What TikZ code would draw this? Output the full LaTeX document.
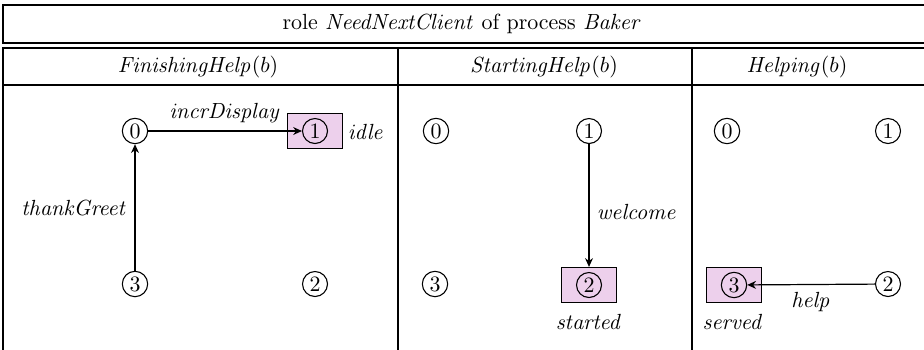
\documentclass[tikz,border=0pt]{standalone}
\usetikzlibrary{arrows.meta}
\definecolor{hl}{RGB}{237,208,236}
\begin{document}
\begin{tikzpicture}[x=0.456pt,y=-0.456pt,
  st/.style={circle,draw,line width=0.5pt,inner sep=1.1pt},
  hlbox/.style={rectangle,draw,fill=hl,minimum width=25.2pt,minimum height=16pt,line width=0.5pt},
  grid/.style={line width=0.5pt},
  tr/.style={-{Stealth[length=4pt,width=3.6pt]},line width=0.55pt},
  lbl/.style={inner sep=0pt}]
\useasboundingbox (0,0) rectangle (924,349);
\clip (0,0) rectangle (924,349);
% frames
\draw[grid] (3,5) rectangle (940,43);
\draw[grid] (940,48) -- (3,48) -- (3,360);
\draw[grid] (3,85) -- (940,85);
\draw[grid] (398,48) -- (398,360);
\draw[grid] (692,48) -- (692,360);
% titles
\node[lbl] (title) at (462,24) {role $\mathit{NeedNextClient}$ of process $\mathit{Baker}$};
\node[lbl] (h1) at (198,67) {$\mathit{FinishingHelp}(b)$};
\node[lbl] (h2) at (544,67) {$\mathit{StartingHelp}(b)$};
\node[lbl] (h3) at (797,67) {$\mathit{Helping}(b)$};
% column 1
\node[hlbox] (b11) at (315,131) {};
\node[st] (a0) at (135,131) {0};
\node[st] (a1) at (315,131) {1};
\node[st] (a3) at (135,284) {3};
\node[st] (a2) at (315,284) {2};
\node[lbl] (idle) at (366,132) {$\mathit{idle}$};
\draw[tr] (a0) -- node[above] {$\mathit{incrDisplay}$} (a1);
\draw[tr] (a3) -- node[left] {$\mathit{thankGreet}$} (a0);
% column 2
\node[hlbox] (b22) at (589,285) {};
\node[st] (c0) at (436,131) {0};
\node[st] (c1) at (589,131) {1};
\node[st] (c3) at (435,284) {3};
\node[st] (c2) at (589,285) {2};
\node[lbl] (started) at (589,322) {$\mathit{started}$};
\draw[tr] (c1) -- node[right,pos=0.55] {$\mathit{welcome}$} (b22.north);
% column 3
\node[hlbox] (b33) at (734,285) {};
\node[st] (d0) at (727,131) {0};
\node[st] (d1) at (888,131) {1};
\node[st] (d3) at (734,285) {3};
\node[st] (d2) at (888,284) {2};
\node[lbl] (served) at (733,322) {$\mathit{served}$};
\draw[tr] (d2) -- node[below] {$\mathit{help}$} (d3);
\end{tikzpicture}
\end{document}
